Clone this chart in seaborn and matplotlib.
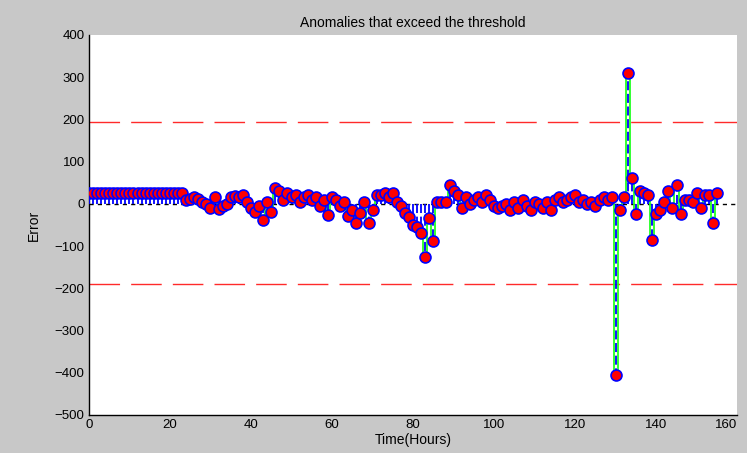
# Anomalies that exceed the threshold: stem plot of the error per hour,
# with the threshold band drawn as dashed red lines.

import seaborn as sns
import matplotlib.pyplot as plt
import numpy as np
import pandas as pd

# Data
hours = list(range(156))
error = [25] * 24 + [
    10, 12, 15, 12, 5, 0, -10, 15, -12, -5,          # 24-33
    0, 15, 18, 15, 20, 5, -10, -20, -5, -38,         # 34-43
    5, -20, 37, 30, 10, 25, 15, 20, 5, 15,           # 44-53
    20, 10, 15, -5, 10, -26, 15, 10, -5, 5,          # 54-63
    -30, -15, -45, -21, 5, -45, -15, 20, 20, 25,     # 64-73
    15, 25, 5, -5, -21, -31, -50, -55, -69, -125,    # 74-83
    -33, -88, 5, 5, 5, 45, 30, 20, -10, 15,          # 84-93
    0, 10, 15, 5, 20, 10, -5, -10, -5, 0,            # 94-103
    -15, 5, -10, 10, -5, -15, 5, 0, -10, 5,          # 104-113
    -15, 10, 15, 5, 10, 15, 20, 5, 10, 0,            # 114-123
    5, -5, 10, 15, 10, 15, -405, -15, 15, 310,       # 124-133
    60, -25, 30, 25, 20, -85, -25, -15, 5, 30,       # 134-143
    -10, 45, -25, 10, 10, 5, 25, -10, 20, 20,        # 144-153
    -45, 25,                                         # 154-155
]
upper_threshold = 193
lower_threshold = -190

df = pd.DataFrame({"hour": hours, "error": error})

sns.set_style("white")
plt.rcParams["font.family"] = ["Liberation Sans", "DejaVu Sans"]

fig = plt.figure(figsize=(7.47, 4.53), dpi=100, facecolor="#c8c8c8")
ax = fig.add_axes([0.119, 0.084, 0.868, 0.839])
ax.set_facecolor("white")

# green error trace
sns.lineplot(data=df, x="hour", y="error", ax=ax, color="#22ff22",
             linewidth=1.3, drawstyle="steps-mid", zorder=2)

# stems
ax.vlines(df["hour"], 0, df["error"], colors="#0000ff",
          linestyles=(0, (5, 2)), linewidth=1.3, zorder=3)

# zero baseline and thresholds
ax.axhline(0, color="black", linestyle=(0, (3, 3)), linewidth=1, zorder=1)
ax.axhline(upper_threshold, color="#ff2a2a", linestyle=(0, (22, 8)),
           linewidth=1, zorder=1)
ax.axhline(lower_threshold, color="#ff2a2a", linestyle=(0, (22, 8)),
           linewidth=1, zorder=1)

# markers
sns.scatterplot(data=df, x="hour", y="error", ax=ax, s=62, color="#ff0000",
                edgecolor="#0000ff", linewidth=1.2, zorder=4)

ax.set_xlim(0, 160)
ax.set_ylim(-500, 400)
ax.set_xticks(np.arange(0, 161, 20))
ax.set_yticks(np.arange(-500, 401, 100))
ax.tick_params(direction="in", length=4, labelsize=9.5, width=1,
               colors="black", pad=3)
# keep the last x label inside the figure
ax.get_xticklabels()[-1].set_horizontalalignment("right")
ax.get_xticklabels()[-1].set_x(160)
for side in ["top", "right"]:
    ax.spines[side].set_visible(False)
for side in ["left", "bottom"]:
    ax.spines[side].set_color("black")
    ax.spines[side].set_linewidth(1)

ax.set_title("Anomalies that exceed the threshold", fontsize=10,
             pad=6, color="black")
ax.set_xlabel("Time(Hours)", fontsize=10, labelpad=1, color="black")
ax.set_ylabel("Error", fontsize=10, labelpad=10, color="black")

fig.savefig("out.png", dpi=100, facecolor=fig.get_facecolor())
